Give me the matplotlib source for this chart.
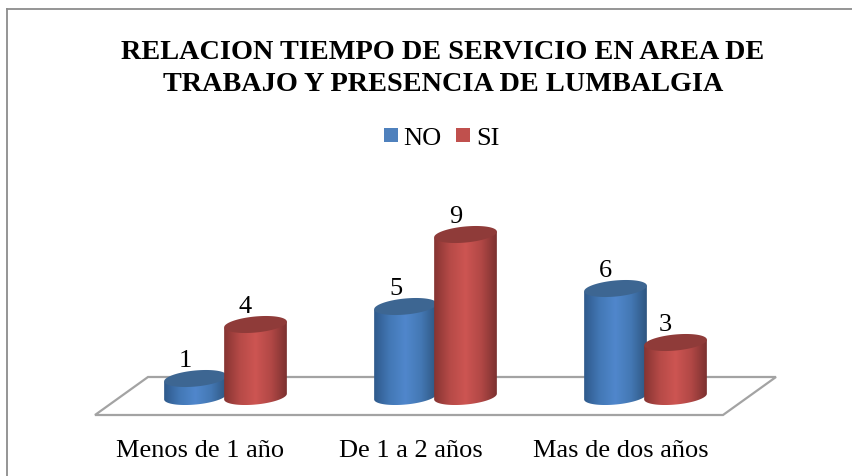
import numpy as np
import matplotlib
matplotlib.use('Agg')
import matplotlib.pyplot as plt
from matplotlib.colors import LinearSegmentedColormap
from matplotlib.patches import Polygon, Rectangle

plt.rcParams['font.family'] = ['Liberation Serif', 'DejaVu Serif']

title = 'RELACION TIEMPO DE SERVICIO EN AREA DE\nTRABAJO Y PRESENCIA DE LUMBALGIA'
categories = ['Menos de 1 año', 'De 1 a 2 años', 'Mas de dos años']
no_values = [1, 5, 6]
si_values = [4, 9, 3]

W, H = 853, 477
# pixels per unit on each axis
PX_X = 210.0
PX_Y = 18.0
X0 = 225.5
Y0 = 397.5
BAR_OFFSET = 30 / PX_X
A, B = 31.5, 8.0
TILT = np.radians(5.5)

BLUE = ['#2f5a8c', '#4378b6', '#5087cc', '#4478b4', '#2e5680']
RED = ['#863432', '#b64a47', '#cd5552', '#b24846', '#7c3130']
BLUE_TOP = '#3d6692'
RED_TOP = '#8f3b39'
FLOOR = '#a3a3a3'

fig = plt.figure(figsize=(W / 100, H / 100), dpi=100)
ax = fig.add_axes([0, 0, 1, 1])
ax.axis('off')


def ellipse_xy(x, v):
    # tilted ellipse, worked out in pixels and returned in data units
    t = np.linspace(0, 2 * np.pi, 121)
    dx = A * np.cos(t) * np.cos(TILT) - B * np.sin(t) * np.sin(TILT)
    dy = A * np.cos(t) * np.sin(TILT) + B * np.sin(t) * np.cos(TILT)
    return x + dx / PX_X, v + dy / PX_Y


def draw_cylinder(x, v, colors, top_color, z):
    tx, ty = ellipse_xy(x, v)
    bx, by = ellipse_xy(x, 0)
    # body outline: lower half of base ellipse + upper half of top ellipse
    i_r = np.argmax(bx)
    i_l = np.argmin(bx)
    order = np.r_[i_l:len(bx) - 1, 0:i_r + 1]
    xs = np.r_[bx[order], tx[i_r], tx[i_l]]
    ys = np.r_[by[order], ty[i_r], ty[i_l]]
    body = Polygon(np.c_[xs, ys], closed=True, fc='none', ec='none', zorder=z)
    ax.add_patch(body)
    cmap = LinearSegmentedColormap.from_list('cyl', colors)
    grad = np.linspace(0, 1, 128).reshape(1, -1)
    im = ax.imshow(grad, cmap=cmap, aspect='auto', zorder=z,
                   extent=[xs.min(), xs.max(), by.min(), ty.max()])
    im.set_clip_path(body)
    ax.add_patch(Polygon(np.c_[tx, ty], closed=True, fc=top_color, ec='none', zorder=z + 0.1))


# floor of the 3D chart, in data units
floor_px = [(95, 416), (148, 378), (776, 378), (723, 416)]
floor = [((px - X0) / PX_X, (Y0 - py) / PX_Y) for px, py in floor_px]
ax.add_patch(Polygon(floor, closed=True, fc='white', ec=FLOOR, lw=1.6, zorder=1))

for i in range(len(categories)):
    x_no = i - BAR_OFFSET
    x_si = i + BAR_OFFSET
    draw_cylinder(x_no, no_values[i], BLUE, BLUE_TOP, 2 + i)
    draw_cylinder(x_si, si_values[i], RED, RED_TOP, 2.5 + i)
    for x, v in ((x_no, no_values[i]), (x_si, si_values[i])):
        ax.annotate(str(v), (x, v), xytext=(-7.2, 13), textcoords='offset points',
                    ha='center', va='center', fontsize=19, color='black', zorder=10)
    ax.annotate(categories[i], (i, 0), xytext=(-18, -38.5), textcoords='offset points',
                ha='center', va='center', fontsize=19, color='black', zorder=10)

ax.set_xlim(-X0 / PX_X, (W - X0) / PX_X)
ax.set_ylim((Y0 - H) / PX_Y, Y0 / PX_Y)

# everything else is placed in figure pixels
px = lambda x, y: (x / W, 1 - y / H)
fig.text(*px(443, 68.5), title, ha='center', va='center', fontsize=20.3, fontweight='bold',
         linespacing=1.42, color='black')
fig.text(*px(403, 139), 'NO', ha='left', va='center', fontsize=19, color='black')
fig.text(*px(476, 139), 'SI', ha='left', va='center', fontsize=19, color='black')
for x0, c in ((384, '#4f81bd'), (456, '#c0504d')):
    fig.add_artist(Rectangle(px(x0, 143), 14 / W, 14 / H, transform=fig.transFigure, fc=c, ec='none'))

# chart border, only left and top show
x_b, y_b = 7, 9.5
fig.add_artist(plt.Line2D([x_b / W, x_b / W], [0, 1 - y_b / H], color='#8c8c8c', lw=1.3))
fig.add_artist(plt.Line2D([x_b / W, 1], [1 - y_b / H, 1 - y_b / H], color='#8c8c8c', lw=1.3))

fig.savefig('out.png', dpi=100)
